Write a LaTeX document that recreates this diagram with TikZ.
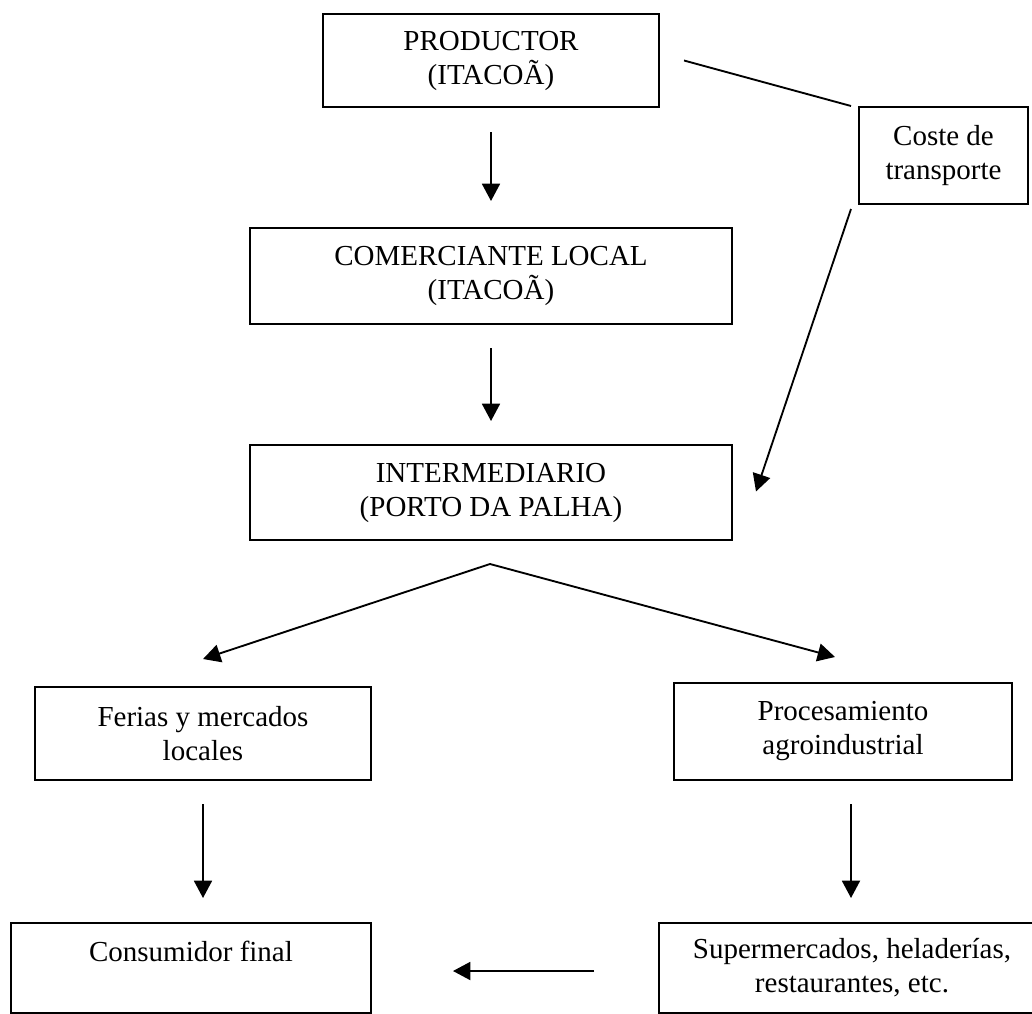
\documentclass[tikz,border=0pt]{standalone}
\usepackage{fontspec}
\setmainfont{Liberation Serif}
\usetikzlibrary{arrows.meta}
\begin{document}
\begin{tikzpicture}[x=0.75pt,y=-0.75pt,
  box/.style={draw,line width=1.5pt,rectangle,inner sep=0pt,align=center,
    font=\fontsize{21.75}{25.5}\selectfont},
  sz/.style 2 args={minimum width=#1*0.75pt,minimum height=#2*0.75pt},
  arr/.style={line width=1.4pt,-{Triangle[length=13pt,width=13.5pt]}},
  ln/.style={line width=1.4pt}]
\useasboundingbox[fill=white] (0,0) rectangle (1032,1014);

\node[box,sz={336}{93}] (prod) at (491,60.5) {PRODUCTOR\\(ITACOÃ)};
\node[box,sz={169}{97}] (coste) at (943.5,155.5) {Coste de\\transporte};
\node[box,sz={482}{96}] (com) at (491,276) {COMERCIANTE LOCAL\\(ITACOÃ)};
\node[box,sz={482}{95}] (inter) at (491,492.5) {INTERMEDIARIO\\(PORTO DA PALHA)};
\node[box,sz={336}{93}] (ferias) at (203,733.5) {Ferias y mercados\\locales};
\node[box,sz={338}{97}] (proc) at (843,731.5) {Procesamiento\\agroindustrial};
\node[box,sz={360}{90}] (cons) at (191,968) {Consumidor final\\~};
\node[box,sz={386}{90}] (super) at (852,968) {Supermercados, heladerías,\\restaurantes, etc.};

\draw[arr] ([shift={(0,24)}]prod.south) -- ([shift={(0,-26)}]com.north);
\draw[arr] ([shift={(0,23)}]com.south) -- ([shift={(0,-23)}]inter.north);
\draw[ln] ([shift={(24,0)}]prod.east) -- ([shift={(-7,0)}]coste.north west);
\draw[arr] ([shift={(-7,4)}]coste.south west) -- ([shift={(23,-1)}]inter.east);

\coordinate (apex) at ([shift={(-1,23)}]inter.south);
\draw[arr] (apex) -- ([shift={(0,-27)}]ferias.north);
\draw[arr] (apex) -- ([shift={(-8,-25)}]proc.north);

\draw[arr] ([shift={(0,23)}]ferias.south) -- ([shift={(12,-24)}]cons.north);
\draw[arr] ([shift={(8,23)}]proc.south) -- ([shift={(-1,-24)}]super.north);
\draw[arr] ([shift={(-64,3)}]super.west) -- ([shift={(81,3)}]cons.east);
\end{tikzpicture}
\end{document}
